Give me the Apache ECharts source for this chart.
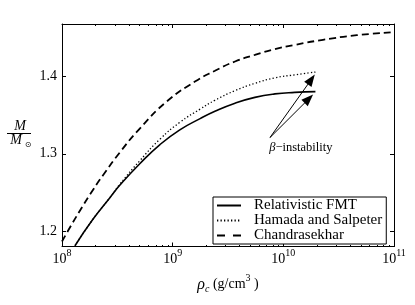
<!DOCTYPE html>
<html><head><meta charset="utf-8">
<script src="https://cdn.jsdelivr.net/npm/echarts@6/dist/echarts.min.js"></script>
<style>html,body{margin:0;padding:0;background:#fff}#c{width:415px;height:305px}</style>
</head><body><div id="c"></div>
<script>
// ---- data ----
const rhoFMT  = [1.31e8, 1.91e8, 2.72e8, 3.34e8, 5.07e8, 7.68e8, 1.16e9, 1.77e9, 2.41e9, 3.66e9, 5.53e9, 8.39e9, 1.27e10, 1.95e10];
const massFMT = [1.181, 1.2155, 1.2435, 1.2595, 1.2875, 1.312, 1.331, 1.3455, 1.355, 1.3655, 1.373, 1.3775, 1.3795, 1.3805];
const rhoHS   = [1.31e8, 1.91e8, 2.72e8, 3.34e8, 5.07e8, 7.68e8, 1.16e9, 1.77e9, 2.41e9, 3.66e9, 5.53e9, 8.39e9, 1.27e10, 1.95e10];
const massHS  = [1.181, 1.2155, 1.2435, 1.2608, 1.2914, 1.319, 1.3407, 1.3578, 1.3693, 1.3817, 1.3912, 1.3983, 1.4022, 1.4058];
const rhoCh   = [1e8, 1.13e8, 1.46e8, 1.91e8, 2.34e8, 3.34e8, 5.07e8, 8.89e8, 1.59e9, 2.41e9, 3.66e9, 5.53e9, 8.39e9, 1.27e10, 2.28e10, 4.62e10, 1e11];
const massCh  = [1.1865, 1.200, 1.227, 1.2535, 1.272, 1.302, 1.333, 1.368, 1.3935, 1.4075, 1.4195, 1.428, 1.4355, 1.441, 1.4475, 1.4535, 1.4575];
const seriesNames = ['Relativistic FMT', 'Hamada and Salpeter', 'Chandrasekhar'];
const yTicks = [1.2, 1.3, 1.4];
const xMajor = [1e8, 1e9, 1e10, 1e11];
const xMinor = [2e8,3e8,4e8,5e8,6e8,7e8,8e8,9e8, 2e9,3e9,4e9,5e9,6e9,7e9,8e9,9e9, 2e10,3e10,4e10,5e10,6e10,7e10,8e10,9e10];
const arrowTail = [7.57e9, 1.321];
const arrowHeadHS = [1.79e10, 1.3962];
const arrowHeadFMT = [1.70e10, 1.3712];
const annotPos = [1.44e10, 1.308];
const annotText = 'β−instability';
const xMin = 1e8, xMax = 1e11, yMin = 1.18, yMax = 1.468;

const FONT = 'Liberation Serif';
const zip = (a, b) => a.map((v, i) => [v, b[i]]);

const chart = echarts.init(document.getElementById('c'), null, {renderer: 'canvas'});

const xLabelRich = {
  b: {fontFamily: FONT, fontSize: 14, color: '#000'},
  s: {fontFamily: FONT, fontSize: 10, color: '#000', padding: [0, 0, 12, 0]}
};
const baseX = {
  type: 'log', logBase: 10, min: xMin, max: xMax,
  axisLine: {show: true, lineStyle: {color: '#000', width: 1}},
  axisTick: {show: true, inside: true, length: 4, lineStyle: {color: '#000', width: 1}},
  splitLine: {show: false}, minorTick: {show: false}
};
const baseY = {
  type: 'value', min: yMin, max: yMax,
  axisLine: {show: true, lineStyle: {color: '#000', width: 1}},
  axisTick: {show: true, inside: true, length: 4, customValues: yTicks, lineStyle: {color: '#000', width: 1}},
  splitLine: {show: false}
};

const option = {
  animation: false,
  backgroundColor: '#fff',
  grid: {left: 62, right: 21, top: 24, bottom: 58.5, containLabel: false},
  xAxis: [
    Object.assign({}, baseX, {
      position: 'bottom',
      axisLabel: {
        margin: 2, customValues: xMajor,
        formatter: v => '{b|10}{s|' + Math.round(Math.log10(v)) + '}',
        rich: xLabelRich
      },
      name: '{i|ρ}{sub|c} (g/cm{sup|3} )',
      nameLocation: 'middle', nameGap: 27,
      nameTextStyle: {
        fontFamily: FONT, fontSize: 14, color: '#000',
        rich: {
          i: {fontFamily: FONT, fontStyle: 'italic', fontSize: 16, color: '#000'},
          sub: {fontFamily: FONT, fontStyle: 'italic', fontSize: 10, color: '#000', padding: [9, 0, 0, 0]},
          sup: {fontFamily: FONT, fontSize: 10, color: '#000', padding: [0, 0, 12, 0]}
        }
      }
    }),
    Object.assign({}, baseX, {position: 'top', axisLabel: {show: false}})
  ],
  yAxis: [
    Object.assign({}, baseY, {
      position: 'left',
      axisLabel: {customValues: yTicks, margin: 5, fontFamily: FONT, fontSize: 14, color: '#000',
        formatter: v => v.toFixed(1)}
    }),
    Object.assign({}, baseY, {position: 'right', axisLabel: {show: false}})
  ],
  legend: {
    data: [
      {name: seriesNames[0]},
      {name: seriesNames[1]},
      {name: seriesNames[2], lineStyle: {type: [8, 8]}}
    ],
    orient: 'vertical', left: 213, top: 197,
    itemWidth: 24, itemHeight: 13, itemGap: 0, padding: [1, 4, 1, 3],
    borderColor: '#000', borderWidth: 1, borderRadius: 0, backgroundColor: '#fff',
    selectedMode: false,
    itemStyle: {opacity: 0, borderWidth: 0},
    textStyle: {fontFamily: FONT, fontSize: 15, lineHeight: 14, color: '#000', padding: [0, 0, 0, 8]}
  },
  graphic: [
    {type: 'text', x: 20, y: 126, style: {text: 'M', font: 'italic 14px "Liberation Serif"', fill: '#000', textAlign: 'center', textVerticalAlign: 'middle'}},
    {type: 'line', shape: {x1: 7, y1: 133.5, x2: 31, y2: 133.5}, style: {stroke: '#000', lineWidth: 1}},
    {type: 'text', x: 16, y: 140.5, style: {text: 'M', font: 'italic 14px "Liberation Serif"', fill: '#000', textAlign: 'center', textVerticalAlign: 'middle'}},
    {type: 'text', x: 28, y: 144.5, style: {text: '⊙', font: '8px "DejaVu Sans"', fill: '#000', textAlign: 'center', textVerticalAlign: 'middle'}}
  ],
  series: [
    {
      name: seriesNames[0], type: 'line', data: zip(rhoFMT, massFMT),
      symbol: 'none', showSymbol: false, smooth: 0.5, z: 3,
      lineStyle: {color: '#000', width: 1.6, type: 'solid'},
      itemStyle: {color: '#000'},
      markLine: {
        silent: true, animation: false,
        symbol: ['none', 'triangle'], symbolSize: [9, 12],
        lineStyle: {color: '#000', width: 1, type: 'solid'},
        label: {show: false},
        data: [
          [{coord: arrowTail}, {coord: arrowHeadHS}],
          [{coord: arrowTail}, {coord: arrowHeadFMT}]
        ]
      },
      markPoint: {
        silent: true, animation: false,
        symbol: 'circle', symbolSize: 0,
        itemStyle: {color: 'rgba(0,0,0,0)'},
        label: {
          show: true, position: 'inside', color: '#000', fontFamily: FONT, fontSize: 12.5,
          formatter: '{g|β}−instability',
          rich: {g: {fontFamily: FONT, fontStyle: 'italic', fontSize: 12.5, color: '#000'}}
        },
        data: [{coord: annotPos, value: annotText}]
      }
    },
    {
      name: seriesNames[1], type: 'line', data: zip(rhoHS, massHS),
      symbol: 'none', showSymbol: false, smooth: 0.5, z: 2,
      lineStyle: {color: '#000', width: 1.3, type: [1.3, 2.2], cap: 'butt'},
      itemStyle: {color: '#000'}
    },
    {
      name: seriesNames[2], type: 'line', data: zip(rhoCh, massCh),
      symbol: 'none', showSymbol: false, smooth: 0.5, z: 2,
      lineStyle: {color: '#000', width: 1.8, type: [7, 4]},
      itemStyle: {color: '#000'}
    },
    {
      name: 'minorTicks', type: 'custom', silent: true, clip: false, z: 5,
      data: xMinor.map(v => [v, yMin]),
      encode: {x: 0, y: 1},
      renderItem: (params, api) => {
        const x = Math.round(api.coord([api.value(0), yMin])[0]) + 0.5;
        const cs = params.coordSys;
        const b = Math.round(cs.y + cs.height), t = Math.round(cs.y);
        return {type: 'group', children: [
          {type: 'line', shape: {x1: x, y1: b, x2: x, y2: b - 2}, style: {stroke: '#000', lineWidth: 1}},
          {type: 'line', shape: {x1: x, y1: t, x2: x, y2: t + 2}, style: {stroke: '#000', lineWidth: 1}}
        ]};
      }
    }
  ]
};
chart.setOption(option);
</script>
</body></html>
